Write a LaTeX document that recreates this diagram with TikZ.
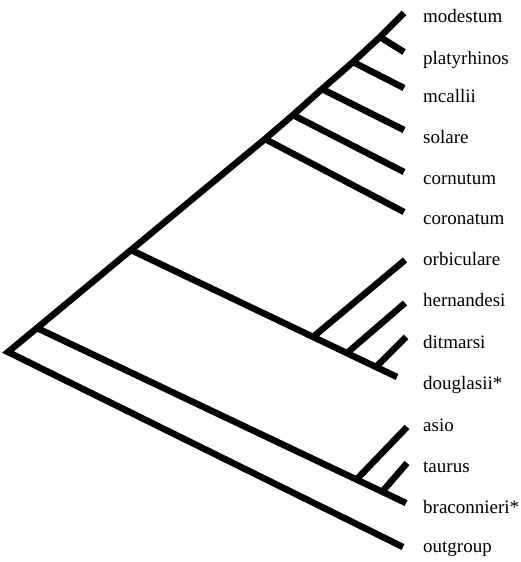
\documentclass[tikz,border=0pt]{standalone}
\usepackage{fontspec}
\setmainfont{Liberation Serif}

\begin{document}
\begin{tikzpicture}[x=1pt, y=-1pt,
    branch/.style={line width=6.5pt},
    taxon/.style={anchor=base west, inner sep=0pt, font=\fontsize{19}{22}\selectfont}]
    \useasboundingbox (0,0) rectangle (521,562);

    % internal nodes of the tree
    \coordinate (R) at (8,352);
    \coordinate (A) at (37,328);
    \coordinate (B) at (131,250);
    \coordinate (C) at (265,139);
    \coordinate (D) at (293,115);
    \coordinate (E) at (322,89);
    \coordinate (F) at (353,62);
    \coordinate (G) at (380,37);
    \coordinate (O1) at (313,337);
    \coordinate (O2) at (347,353);
    \coordinate (O3) at (376,367);
    \coordinate (P1) at (356,480);
    \coordinate (P2) at (382,492);

    % tips
    \coordinate (tMod) at (404,13);
    \coordinate (tPla) at (404,52);
    \coordinate (tMca) at (404,88);
    \coordinate (tSol) at (404,130);
    \coordinate (tCor) at (404,172);
    \coordinate (tCoro) at (404,212);
    \coordinate (tOrb) at (405,260);
    \coordinate (tHer) at (405,303);
    \coordinate (tDit) at (406,337);
    \coordinate (tDou) at (397,377);
    \coordinate (tAsi) at (407,427);
    \coordinate (tTau) at (407,463);
    \coordinate (tBra) at (406,503);
    \coordinate (tOut) at (403,547);

    % taxon names
    \node[taxon] (modestum) at (423,23) {modestum};
    \node[taxon] (platyrhinos) at (423,64) {platyrhinos};
    \node[taxon] (mcallii) at (423,102) {mcallii};
    \node[taxon] (solare) at (423,143) {solare};
    \node[taxon] (cornutum) at (423,184) {cornutum};
    \node[taxon] (coronatum) at (423,224) {coronatum};
    \node[taxon] (orbiculare) at (423,265) {orbiculare};
    \node[taxon] (hernandesi) at (423,306) {hernandesi};
    \node[taxon] (ditmarsi) at (423,348) {ditmarsi};
    \node[taxon] (douglasii) at (423,389) {douglasii*};
    \node[taxon] (asio) at (423,431) {asio};
    \node[taxon] (taurus) at (423,472) {taurus};
    \node[taxon] (braconnieri) at (423,513) {braconnieri*};
    \node[taxon] (outgroup) at (423,552) {outgroup};

    % spine
    \draw[branch] (tOut) -- (R) -- (A) -- (B) -- (C) -- (D) -- (E) -- (F) -- (G) -- (tMod);
    \draw[branch] (G) -- (tPla);
    \draw[branch] (F) -- (tMca);
    \draw[branch] (E) -- (tSol);
    \draw[branch] (D) -- (tCor);
    \draw[branch] (C) -- (tCoro);

    % douglasii group
    \draw[branch] (B) -- (tDou);
    \draw[branch] (O1) -- (tOrb);
    \draw[branch] (O2) -- (tHer);
    \draw[branch] (O3) -- (tDit);

    % braconnieri group
    \draw[branch] (A) -- (tBra);
    \draw[branch] (P1) -- (tAsi);
    \draw[branch] (P2) -- (tTau);
\end{tikzpicture}
\end{document}
